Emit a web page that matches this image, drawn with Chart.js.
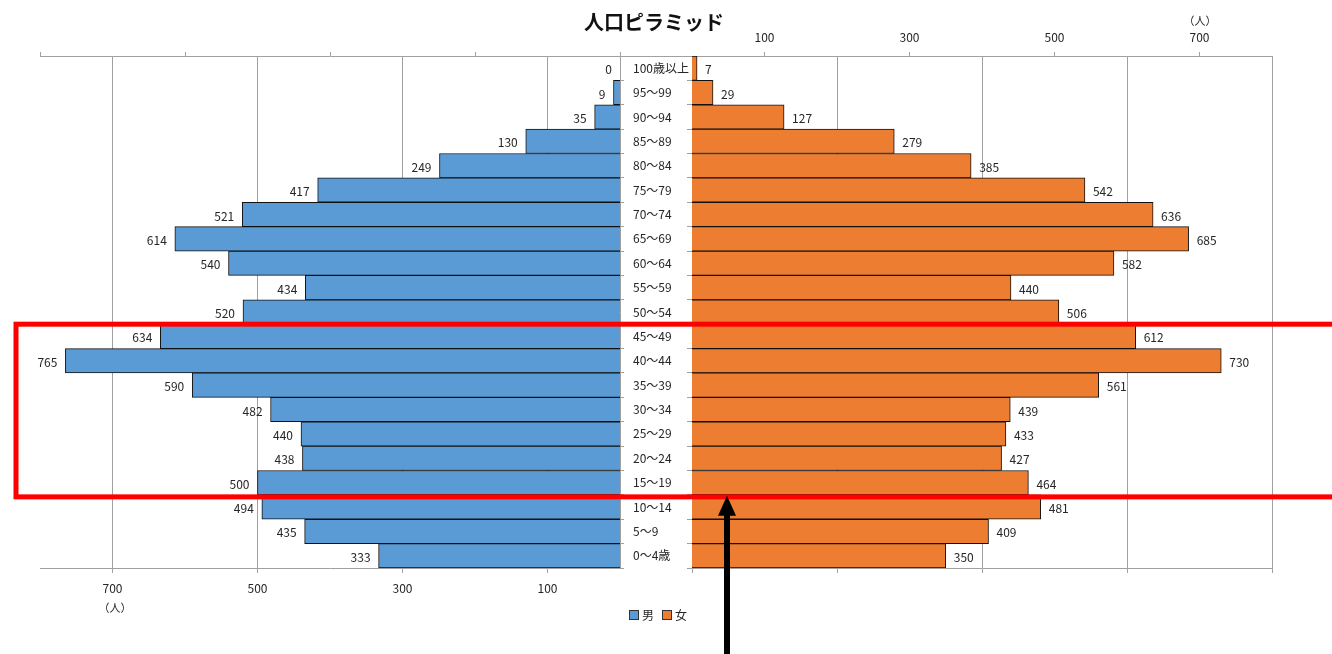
<!DOCTYPE html>
<html lang="ja">
<head>
<meta charset="utf-8">
<title>人口ピラミッド</title>
<script src="https://cdn.jsdelivr.net/npm/chart.js@4.4.1/dist/chart.umd.min.js"></script>
<style>
  body { margin: 0; background: #fff; font-family: "Noto Sans CJK JP", "Noto Sans", sans-serif; }
  #wrap { position: relative; width: 1332px; height: 654px; overflow: hidden; }
  #left { position: absolute; left: 0; top: 0; }
  #right { position: absolute; left: 620px; top: 0; }
  #overlay { position: absolute; left: 0; top: 0; pointer-events: none; }
  .title { position: absolute; top: 12px; left: 0; width: 1308px; text-align: center; font-size: 20px; line-height: 20px; font-weight: bold; color: #111; }
  .unit { position: absolute; font-size: 11px; line-height: 11px; color: #262626; width: 40px; text-align: center; }
  .legend { position: absolute; left: 629px; top: 607px; display: flex; align-items: center; font-size: 12px; line-height: 16px; color: #262626; }
  .legend i { display: inline-block; width: 8px; height: 8px; border: 1px solid #333; margin-right: 3px; }
  .legend span { display: flex; align-items: center; margin-right: 8px; }
</style>
</head>
<body>
<div id="wrap">
  <canvas id="left" width="630" height="654"></canvas>
  <canvas id="right" width="712" height="654"></canvas>
  <canvas id="overlay" width="1332" height="654"></canvas>
  <div class="title">人口ピラミッド</div>
  <div class="unit" style="left:1180px; top:15px;">（人）</div>
  <div class="unit" style="left:95px; top:602px;">（人）</div>
  <div class="legend">
    <span><i style="background:#5B9BD5"></i>男</span>
    <span><i style="background:#ED7D31"></i>女</span>
  </div>
</div>
<script>
// 年齢階級（上から）
const ageGroups = ["100歳以上", "95～99", "90～94", "85～89", "80～84", "75～79", "70～74",
  "65～69", "60～64", "55～59", "50～54", "45～49", "40～44", "35～39", "30～34",
  "25～29", "20～24", "15～19", "10～14", "5～9", "0～4歳"];
const male = [0, 9, 35, 130, 249, 417, 521, 614, 540, 434, 520, 634, 765, 590, 482, 440, 438, 500, 494, 435, 333];
const female = [7, 29, 127, 279, 385, 542, 636, 685, 582, 440, 506, 612, 730, 561, 439, 433, 427, 464, 481, 409, 350];
const labelTicks = [100, 300, 500, 700];
const evenTicks = [0, 200, 400, 600, 800];
const highlight = ["45～49", "15～19"];

const GRID = "#a0a0a0";
const TEXT = "#262626";
const FONT = { family: '"Noto Sans CJK JP", "Noto Sans", sans-serif', size: 12 };

function setTicks(list) {
    return function (scale) {
        scale.ticks = list.map(function (v) { return { value: v }; });
    };
}

// 棒の端に数値
const valueLabels = {
    id: "valueLabels",
    afterDatasetsDraw(chart, args, opts) {
        const ctx = chart.ctx;
        const meta = chart.getDatasetMeta(0);
        const values = chart.data.datasets[0].data;
        ctx.save();
        ctx.font = FONT.size + "px " + FONT.family;
        ctx.fillStyle = TEXT;
        ctx.textBaseline = "middle";
        ctx.textAlign = opts.side === "left" ? "right" : "left";
        meta.data.forEach(function (bar, i) {
            const x = opts.side === "left" ? bar.x - 8 : bar.x + 8;
            ctx.fillText(String(values[i]), x, bar.y + 1.5);
        });
        ctx.restore();
    },
};

// 中央の隙間にも上の線を引く
const gapLine = {
    id: "gapLine",
    afterDraw(chart) {
        const ctx = chart.ctx;
        const y = Math.floor(chart.chartArea.top) + 0.5;
        ctx.save();
        ctx.strokeStyle = GRID;
        ctx.lineWidth = 1;
        ctx.beginPath();
        ctx.moveTo(0, y);
        ctx.lineTo(chart.chartArea.left, y);
        ctx.stroke();
        ctx.restore();
    },
};

const leftChart = new Chart(document.getElementById("left"), {
    type: "bar",
    data: {
        labels: ageGroups,
        datasets: [{
            label: "男",
            data: male,
            backgroundColor: "#5B9BD5",
            borderColor: "#111",
            borderWidth: 1,
            barPercentage: 1,
            categoryPercentage: 1,
        }],
    },
    plugins: [valueLabels],
    options: {
        indexAxis: "y",
        responsive: false,
        animation: false,
        events: [],
        layout: { padding: { left: 40, right: 0, top: 0, bottom: 0 } },
        plugins: {
            legend: { display: false },
            tooltip: { enabled: false },
            valueLabels: { side: "left" },
        },
        scales: {
            x: {
                type: "linear",
                position: "bottom",
                reverse: true,
                min: 0,
                max: 800,
                afterBuildTicks: setTicks(labelTicks),
                afterFit(scale) { scale.height = 86; },
                ticks: { color: TEXT, font: FONT, padding: 8, maxRotation: 0 },
                grid: { color: GRID, tickLength: 5 },
                border: { color: GRID },
            },
            x2: {
                type: "linear",
                position: "top",
                reverse: true,
                min: 0,
                max: 800,
                afterBuildTicks: setTicks(evenTicks),
                afterFit(scale) { scale.height = 56; },
                ticks: { display: false },
                grid: { color: GRID, drawOnChartArea: false, tickLength: 4 },
                border: { color: GRID },
            },
            y: {
                position: "right",
                afterFit(scale) { scale.width = 10; },
                ticks: { display: false },
                grid: { color: GRID, drawOnChartArea: false, tickLength: 4 },
                border: { color: GRID },
            },
        },
    },
});

const rightChart = new Chart(document.getElementById("right"), {
    type: "bar",
    data: {
        labels: ageGroups,
        datasets: [{
            label: "女",
            data: female,
            backgroundColor: "#ED7D31",
            borderColor: "#111",
            borderWidth: 1,
            barPercentage: 1,
            categoryPercentage: 1,
        }],
    },
    plugins: [valueLabels, gapLine],
    options: {
        indexAxis: "y",
        responsive: false,
        animation: false,
        events: [],
        layout: { padding: { left: 13, right: 60, top: 0, bottom: 0 } },
        plugins: {
            legend: { display: false },
            tooltip: { enabled: false },
            valueLabels: { side: "right" },
        },
        scales: {
            x: {
                type: "linear",
                position: "top",
                min: 0,
                max: 800,
                afterBuildTicks: setTicks(labelTicks),
                afterFit(scale) { scale.height = 56; },
                ticks: { color: TEXT, font: FONT, padding: 7, maxRotation: 0 },
                grid: { color: GRID, drawOnChartArea: false, tickLength: 4 },
                border: { color: GRID },
            },
            x2: {
                type: "linear",
                position: "bottom",
                min: 0,
                max: 800,
                afterBuildTicks: setTicks(evenTicks),
                afterFit(scale) { scale.height = 86; },
                ticks: { display: false },
                grid: { color: GRID, tickLength: 5 },
                border: { color: GRID },
            },
            y: {
                position: "left",
                afterFit(scale) { scale.width = 59; },
                ticks: { color: TEXT, font: FONT, crossAlign: "far", autoSkip: false },
                grid: { color: GRID, drawOnChartArea: false, tickLength: 5 },
                border: { color: GRID },
            },
        },
    },
});

// 赤枠と矢印
(function drawOverlay() {
    const ctx = document.getElementById("overlay").getContext("2d");
    const yScale = rightChart.scales.y;
    const half = (yScale.getPixelForValue(1) - yScale.getPixelForValue(0)) / 2;
    const top = yScale.getPixelForValue(ageGroups.indexOf(highlight[0])) - half;
    const bottom = yScale.getPixelForValue(ageGroups.indexOf(highlight[1])) + half + 2;

    ctx.strokeStyle = "#ff0000";
    ctx.lineWidth = 5;
    ctx.strokeRect(16, top, 1330, bottom - top);

    const ax = 727;
    ctx.fillStyle = "#000";
    ctx.fillRect(ax - 3, bottom + 18, 6, 654);
    ctx.beginPath();
    ctx.moveTo(ax, bottom - 1);
    ctx.lineTo(ax - 9, bottom + 19);
    ctx.lineTo(ax + 9, bottom + 19);
    ctx.closePath();
    ctx.fill();
})();
</script>
</body>
</html>
